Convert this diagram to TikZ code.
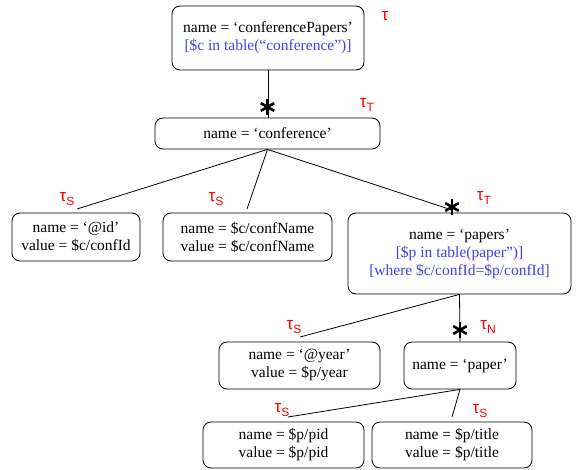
\documentclass[tikz,border=0pt]{standalone}
\usepackage{fontspec}
\setmainfont{Liberation Serif}
\setsansfont{Liberation Sans}
\usetikzlibrary{calc}
\begin{document}
\begin{tikzpicture}[x=1pt,y=-1pt,
  box/.style={draw,rounded corners=8pt,line width=0.8pt,align=center,inner sep=0pt,
    font=\fontsize{15.5}{18}\selectfont},
  lnk/.style={line width=0.8pt},
  tau/.style={text=red,font=\sffamily\fontsize{17}{17}\selectfont,inner sep=0pt},
  star/.style={circle,inner sep=0pt,minimum size=20pt,
    path picture={\foreach \a in {90,30,150}{
      \draw[line width=2.6pt] ($(path picture bounding box.center)+(\a:7.8pt)$)
        -- ($(path picture bounding box.center)+(\a+180:7.8pt)$);}}}]
\definecolor{qblue}{RGB}{64,64,230}
\useasboundingbox (0,0) rectangle (577,470);
\newcommand{\tS}[1]{τ\raisebox{-0.45ex}{\fontsize{12}{12}\selectfont #1}}
\node[box,minimum width=192pt,minimum height=64pt] (top) at (268,38)
  {name = ‘conferencePapers’\\\textcolor{qblue}{[\$c in table(“conference”)]}};
\node[box,minimum width=225pt,minimum height=31pt] (conf) at (267.5,133.5) {name = ‘conference’};
\node[box,minimum width=128pt,minimum height=48pt] (id) at (76,237) {name = ‘@id’\\value = \$c/confId};
\node[box,minimum width=169pt,minimum height=48pt] (cname) at (247.5,237) {name = \$c/confName\\value = \$c/confName};
\node[box,minimum width=223pt,minimum height=81pt] (papers) at (459.5,253.5)
  {name = ‘papers’\\\textcolor{qblue}{[\$p in table(paper”)]}\\\textcolor{qblue}{[where \$c/confId=\$p/confId]}};
\node[box,minimum width=161pt,minimum height=47pt] (year) at (299.5,365.5) {name = ‘@year’\\value = \$p/year};
\node[box,minimum width=112pt,minimum height=47pt] (paper) at (460,365.5) {name = ‘paper’};
\node[box,minimum width=161pt,minimum height=46pt] (pid) at (283.5,445) {name = \$p/pid\\value = \$p/pid};
\node[box,minimum width=160pt,minimum height=46pt] (title) at (452,445) {name = \$p/title\\value = \$p/title};

\coordinate (eid) at (77,209);
\coordinate (ecn) at (247,209);
\coordinate (epa) at (452,210);
\coordinate (eyr) at (300,337);
\coordinate (epid) at (288,417);
\coordinate (eti) at (452,417);

\draw[lnk] (top.south) -- (top.south |- conf.north);
\draw[lnk] (conf.south) -- (eid);
\draw[lnk] (conf.south) -- (ecn);
\draw[lnk] (conf.south) -- (epa);
\draw[lnk] (papers.south) -- (eyr);
\draw[lnk] (papers.south) -- (paper.north);
\draw[lnk] (paper.south) -- (epid);
\draw[lnk] (paper.south) -- (eti);

\node[star] (s1) at (267.5,107) {};
\node[star] (s2) at (452,207) {};
\node[star] (s3) at (460,330) {};

\node[tau] (t1) at (385,16) {τ};
\node[tau] (t2) at (367,105) {\tS{T}};
\node[tau] (t3) at (67,199) {\tS{S}};
\node[tau] (t4) at (216,199) {\tS{S}};
\node[tau] (t5) at (484,198) {\tS{T}};
\node[tau] (t6) at (294,327) {\tS{S}};
\node[tau] (t7) at (488,327) {\tS{N}};
\node[tau] (t8) at (282,410) {\tS{S}};
\node[tau] (t9) at (480,411) {\tS{S}};
\end{tikzpicture}
\end{document}
